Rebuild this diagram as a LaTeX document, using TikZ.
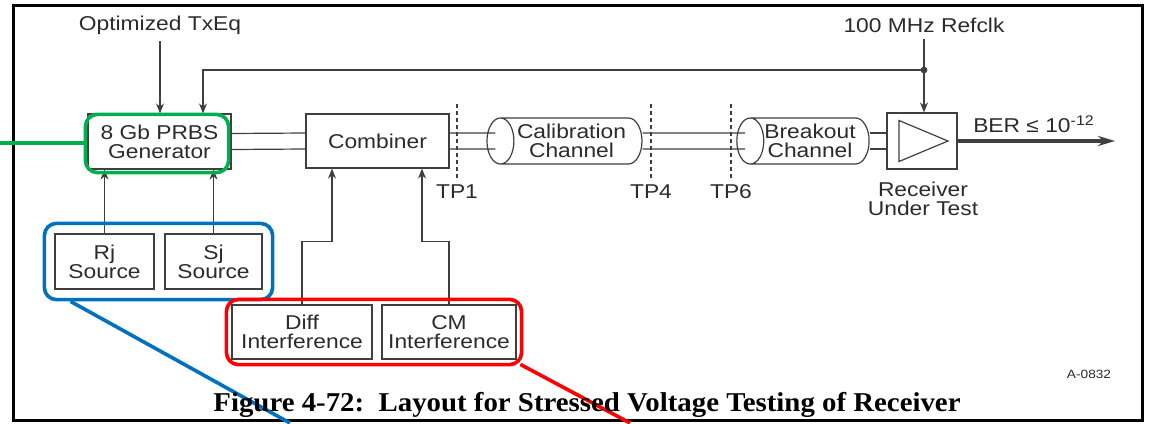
\documentclass[tikz,border=0pt]{standalone}
\usepackage{fontspec}
\setmainfont{Liberation Sans}[FakeStretch=1.14]
\newfontfamily\capfont{Liberation Serif}[FakeStretch=1.06]
\usepackage{tikz}
\usetikzlibrary{shapes.geometric,arrows.meta,positioning,calc,fit}

\definecolor{boxgray}{HTML}{3F3F3F}
\definecolor{txtgray}{HTML}{2B2B2B}
\definecolor{hlgreen}{HTML}{00B050}
\definecolor{hlblue}{HTML}{0070C0}
\definecolor{hlred}{HTML}{FF0000}

\begin{document}
\begin{tikzpicture}[x=0.5pt, y=-0.5pt,
    every node/.style={font=\fontsize{10}{9.5}\selectfont, text=txtgray, align=center},
    box/.style={rectangle, draw=boxgray, line width=0.6pt, inner sep=0pt},
    chan/.style={cylinder, shape border rotate=180, aspect=0.8, draw=boxgray, line width=0.6pt, inner sep=0pt},
    wire/.style={draw=boxgray, line width=0.6pt},
    arrow/.style={->, >={Stealth[length=5pt, width=4pt]}, draw=boxgray, line width=0.6pt},
    tpline/.style={draw=boxgray, line width=0.6pt, dash pattern=on 2pt off 1.5pt},
    hl/.style={rounded corners=6pt, line width=1.8pt}
]
\useasboundingbox (0,0) rectangle (1149,423);
\draw[line width=1.5pt] (13,5) rectangle (1142,420);

% signal path
\node[box, minimum width=71.5pt, minimum height=27.5pt] (gen) at (159.5,141.5) {8 Gb PRBS\\Generator};
\node[box, minimum width=71.5pt, minimum height=27pt] (comb) at (377.5,141) {Combiner};
\node[chan, minimum height=77.5pt, minimum width=23pt] (cal) at (571.5,141) {Calibration\\Channel};
\node[chan, minimum height=64pt, minimum width=23pt] (brk) at (810,141) {Breakout\\Channel};
\node[box, minimum width=35pt, minimum height=28pt] (rx) at (922,141) {};
\draw[boxgray, line width=0.6pt] ($(rx)+(-23,-20.5)$) -- ($(rx)+(26,0)$) -- ($(rx)+(-23,20.5)$) -- cycle;
\node (rxlbl) at (923,199) {Receiver\\Under Test};

\foreach \a/\b/\s in {gen/comb/0pt, comb/cal/4.5pt, cal/brk/4.5pt, brk/rx/0pt}{
  \draw[wire] ([yshift=4pt]\a.east) -- ([xshift=\s, yshift=4pt]\b.west);
  \draw[wire] ([yshift=-4pt]\a.east) -- ([xshift=\s, yshift=-4pt]\b.west);
}

% test points
\foreach \x/\t in {457/TP1, 651/TP4, 731/TP6}{
  \draw[tpline] (\x,104) -- (\x,180);
  \node (\t) at (\x,192) {\t};
}

% clock and equalizer inputs
\node (txeq) at (160,25) {Optimized TxEq};
\node (clk) at (924,25) {100 MHz Refclk};
\coordinate (dot) at (924,70);
\draw[arrow] (txeq.south) -- (txeq.south |- gen.north);
\draw[wire] (clk.south) -- (dot);
\draw[arrow] (dot) -- (dot |- rx.north);
\draw[arrow] (dot) -| ([xshift=21.75pt]gen.north);
\fill[boxgray] (dot) circle (1.7pt);

% output
\coordinate (ber) at (1115,141);
\draw[-{Stealth[length=8.5pt, width=5pt]}, line width=2pt, boxgray] (rx.east) -- (ber);
\node (berlbl) at (1034,124) {BER ≤ 10\textsuperscript{-12}};

% jitter sources
\node[box, minimum width=49.5pt, minimum height=27.5pt] (rj) at (104.5,261.5) {Rj\\Source};
\node[box, minimum width=48.5pt, minimum height=27.5pt] (sj) at (213.5,261.5) {Sj\\Source};
\draw[arrow] (rj.north) -- (rj.north |- gen.south);
\draw[arrow] (sj.north) -- (sj.north |- gen.south);

% interference
\node[box, minimum width=70pt, minimum height=27pt] (diff) at (302,332) {Diff\\Interference};
\node[box, minimum width=67pt, minimum height=27pt] (cm) at (449,332) {CM\\Interference};
\draw[arrow] (diff.north) -- ++(0,-63) -| ([xshift=-22.75pt]comb.south);
\draw[arrow] (cm.north) -- ++(0,-63) -| ([xshift=22.25pt]comb.south);

% highlights
\draw[hl, hlgreen] ([xshift=-1pt, yshift=-1.5pt]gen.south west) rectangle ([xshift=-1.5pt, yshift=-0.5pt]gen.north east);
\node[hl, draw=hlblue, fit=(rj)(sj), inner sep=5pt] (srcbox) {};
\node[hl, draw=hlred, fit=(diff)(cm), inner sep=2.5pt] (intfbox) {};
\coordinate (gtail) at (0,143);
\coordinate (btail) at (290,423);
\coordinate (rtail) at (630,423);
\draw[line width=1.8pt, hlgreen] (gtail) -- (86,143);
\draw[line width=1.8pt, hlblue] ([xshift=14pt]srcbox.south west) -- (btail);
\draw[line width=1.8pt, hlred] ([xshift=-1.5pt, yshift=1pt]intfbox.south east) -- (rtail);

% caption
\node[font=\capfont\bfseries\fontsize{13.6}{15}\selectfont, text=black] (cap) at (587,405) {Figure 4-72:\ \ Layout for Stressed Voltage Testing of Receiver};
\node[font=\fontsize{6}{7}\selectfont] (fignum) at (1089,374) {A-0832};

\end{tikzpicture}
\end{document}
